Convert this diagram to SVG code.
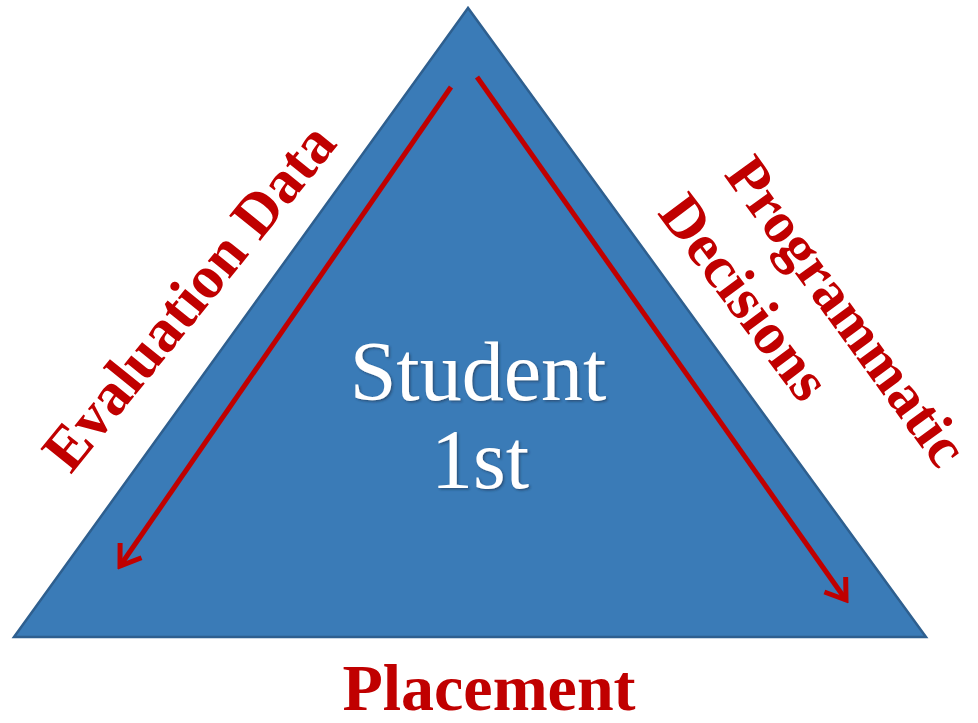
<svg xmlns="http://www.w3.org/2000/svg" width="978" height="723" viewBox="0 0 978 723">
  <style>
    .lbl { font-family: "Liberation Serif", "Times New Roman", serif; font-weight: bold; fill: #c00000; text-anchor: middle; }
    .inner { font-family: "Liberation Serif", "Times New Roman", serif; fill: #ffffff; text-anchor: middle; }
    .arrow { stroke: #c00000; stroke-width: 5; fill: none; }
  </style>
  <defs>
    <marker id="head" markerUnits="userSpaceOnUse" viewBox="-26 -16 30 32" refX="0" refY="0" markerWidth="30" markerHeight="32" orient="auto">
      <path d="M -19 -13 L 0 0 L -19 13" fill="none" stroke="#c00000" stroke-width="5" stroke-linejoin="miter"/>
    </marker>
    <filter id="shadow" x="-10%" y="-10%" width="120%" height="130%">
      <feDropShadow dx="1.5" dy="1.5" stdDeviation="1" flood-color="#1a3350" flood-opacity="0.6"/>
    </filter>
  </defs>
  <rect width="978" height="723" fill="#ffffff"/>
  <g id="triangle">
    <polygon points="468,8 14,637 926,637" fill="#3a7bb7" stroke="#2e5f8f" stroke-width="2.5" stroke-linejoin="miter"/>
  </g>
  <g id="connectors">
    <line class="arrow" x1="451" y1="87" x2="120" y2="566" marker-end="url(#head)"/>
    <line class="arrow" x1="477" y1="77" x2="846" y2="600" marker-end="url(#head)"/>
  </g>
  <g id="center">
    <text class="inner" x="478" y="400" font-size="84" filter="url(#shadow)">Student</text>
    <text class="inner" x="480" y="488" font-size="84" filter="url(#shadow)">1st</text>
  </g>
  <g id="evaluation">
    <text class="lbl" font-size="61" transform="translate(189,297) rotate(-51)" y="20">Evaluation Data</text>
  </g>
  <g id="programmatic">
    <text class="lbl" font-size="59" transform="translate(847,311) rotate(54)" y="20">Programmatic</text>
    <text class="lbl" font-size="60" transform="translate(745,297) rotate(53)" y="20">Decisions</text>
  </g>
  <g id="placement">
    <text class="lbl" x="489" y="710" font-size="66">Placement</text>
  </g>
</svg>
